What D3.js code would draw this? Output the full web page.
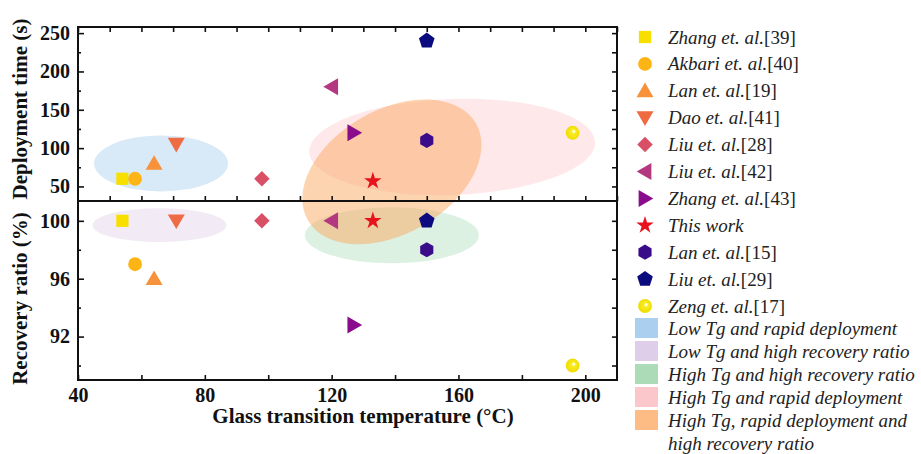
<!DOCTYPE html>
<html>
<head>
<meta charset="utf-8">
<script src="https://cdn.jsdelivr.net/npm/d3@7"></script>
<style>
  html, body { margin: 0; padding: 0; background: #fff; }
  svg { display: block; }
  text { font-family: "Liberation Serif", "Times New Roman", serif; }
</style>
</head>
<body>
<svg id="chart" width="921" height="454"></svg>
<script>
// ---- data ----
const studyNames = ["Zhang et. al.", "Akbari et. al.", "Lan et. al.", "Dao et. al.", "Liu et. al.",
  "Liu et. al.", "Zhang et. al.", "This work", "Lan et. al.", "Liu et. al.", "Zeng et. al."];
const studyRefs = ["[39]", "[40]", "[19]", "[41]", "[28]", "[42]", "[43]", "", "[15]", "[29]", "[17]"];
const glassTransition = [54, 58, 64, 71, 98, 120, 127, 133, 150, 150, 196];      // °C
const deploymentTime = [60, 60, 80, 105, 60, 180, 120, 57, 110, 240, 120];       // s
const recoveryRatio = [100, 97, 96, 100, 100, 100, 92.8, 100, 98, 100, 90];      // %

const regionNames = ["Low Tg and rapid deployment", "Low Tg and high recovery ratio",
  "High Tg and high recovery ratio", "High Tg and rapid deployment",
  "High Tg, rapid deployment and|high recovery ratio"];

const xTicks = [40, 80, 120, 160, 200];
const timeTicks = [50, 100, 150, 200, 250];
const ratioTicks = [92, 96, 100];

// ---- styles ----
const markerColors = ["#f7e000", "#fdb515", "#f7923a", "#ef6b43", "#d94f66", "#b4387f",
  "#8b0b8d", "#e8121c", "#3b0c8a", "#0b0a7e", "#f4e500"];
const markerShapes = ["square", "circle", "triUp", "triDown", "diamond", "triLeft",
  "triRight", "star", "hexagon", "pentagon", "ball"];
const regionColors = ["#8fc0ea", "#d4bee1", "#8fcf9f", "#fbb4b8", "#fba55a"];

const svg = d3.select("#chart");
const left = 78, right = 617, top1 = 27, mid = 201, bottom2 = 380;

const x = d3.scaleLinear().domain([40, 210]).range([left, right]);
const yTime = d3.scaleLinear().domain([31, 258]).range([mid, top1]);
const yRatio = d3.scaleLinear().domain([89, 101.3]).range([bottom2, mid + 1]);

// shaded sphere for the Zeng marker
const defs = svg.append("defs");
const grad = defs.append("radialGradient").attr("id", "ballGrad")
  .attr("cx", "50%").attr("cy", "50%").attr("r", "50%").attr("fx", "60%").attr("fy", "38%");
grad.append("stop").attr("offset", "0%").attr("stop-color", "#ffffff");
grad.append("stop").attr("offset", "12%").attr("stop-color", "#fffde0");
grad.append("stop").attr("offset", "32%").attr("stop-color", "#f9ec20");
grad.append("stop").attr("offset", "100%").attr("stop-color", "#efdc00");

// ---- marker paths ----
function polygon(n, r, rot) {
  const pts = d3.range(n).map(i => {
    const a = rot + i * 2 * Math.PI / n;
    return [r * Math.cos(a), r * Math.sin(a)];
  });
  return "M" + pts.map(p => p[0].toFixed(2) + "," + p[1].toFixed(2)).join("L") + "Z";
}
function markerPath(shape) {
  switch (shape) {
    case "square": return d3.symbol(d3.symbolSquare, 150)();
    case "circle": return d3.symbol(d3.symbolCircle, 150)();
    case "triUp":
    case "triDown":
    case "triLeft":
    case "triRight": return d3.symbol(d3.symbolTriangle, 125)();
    case "diamond": return d3.symbol(d3.symbolSquare, 120)();
    case "star": return d3.symbol(d3.symbolStar, 95)();
    case "hexagon": return polygon(6, 7.6, -Math.PI / 2);
    case "pentagon": return polygon(5, 8.2, -Math.PI / 2);
    case "ball": return d3.symbol(d3.symbolCircle, 150)();
  }
}
function markerRotation(shape) {
  return { triDown: 180, triLeft: -90, triRight: 90, diamond: 45 }[shape] || 0;
}
function drawMarker(g, i, px, py) {
  const shape = markerShapes[i];
  const yShift = shape === "triUp" ? 1.5 : shape === "triDown" ? -1.5 : 0;
  const xShift = shape === "triLeft" ? 1.5 : shape === "triRight" ? -1.5 : 0;
  g.append("path")
    .attr("d", markerPath(shape))
    .attr("transform", `translate(${px + xShift},${py + yShift}) rotate(${markerRotation(shape)})`)
    .attr("fill", shape === "ball" ? "url(#ballGrad)" : markerColors[i]);
}

// ---- shaded regions (centres in data units, radii in px) ----
const plot = svg.append("g");
function region(idx, cx, cy, rx, ry, rot, yScale, op) {
  plot.append("ellipse")
    .attr("cx", 0).attr("cy", 0).attr("rx", rx).attr("ry", ry)
    .attr("transform", `translate(${x(cx)},${yScale(cy)}) rotate(${rot})`)
    .attr("fill", regionColors[idx]).attr("fill-opacity", op);
}
region(0, 66.2, 80, 67, 28, 0, yTime, 0.35);
region(1, 65.7, 99.7, 67, 17, 0, yRatio, 0.3);
region(2, 139, 99, 87, 28, 0, yRatio, 0.3);
region(3, 158, 101.5, 143, 48, -2, yTime, 0.3);
region(4, 139, 69, 97, 62, -30, yTime, 0.48);

// ---- markers ----
const marks = svg.append("g");
glassTransition.forEach((t, i) => {
  drawMarker(marks, i, x(t), yTime(deploymentTime[i]));
  drawMarker(marks, i, x(t), yRatio(recoveryRatio[i]));
});

// ---- axes ----
const tickFont = g => g.selectAll("text")
  .attr("font-family", "Liberation Serif, Times New Roman, serif")
  .attr("font-size", 20).attr("font-weight", "bold").attr("fill", "#111");
const clean = g => { g.select(".domain").remove(); g.selectAll("line").attr("stroke", "#111").attr("stroke-width", 1.6); };

// top panel
svg.append("g").attr("transform", `translate(0,${top1})`)
  .call(d3.axisTop(x).tickValues(d3.range(40, 211, 10)).tickSize(-5).tickFormat(""))
  .call(clean);
svg.append("g").attr("transform", `translate(0,${mid})`)
  .call(d3.axisBottom(x).tickValues(d3.range(50, 211, 10)).tickSize(-5).tickFormat(""))
  .call(clean);
svg.append("g").attr("transform", `translate(${left},0)`)
  .call(d3.axisLeft(yTime).tickValues(timeTicks).tickSize(-6).tickPadding(8))
  .call(clean).call(tickFont);
svg.append("g").attr("transform", `translate(${left},0)`)
  .call(d3.axisLeft(yTime).tickValues([75, 125, 175, 225]).tickSize(-3).tickFormat(""))
  .call(clean);
svg.append("g").attr("transform", `translate(${right},0)`)
  .call(d3.axisRight(yTime).tickValues(d3.range(50, 251, 25)).tickSize(-5).tickFormat(""))
  .call(clean);

// bottom panel
svg.append("g").attr("transform", `translate(0,${bottom2})`)
  .call(d3.axisBottom(x).tickValues(xTicks).tickSize(-5).tickPadding(8))
  .call(clean).call(tickFont);
svg.append("g").attr("transform", `translate(0,${bottom2})`)
  .call(d3.axisBottom(x).tickValues([60, 100, 140, 180]).tickSize(-5).tickFormat(""))
  .call(clean);
svg.append("g").attr("transform", `translate(${left},0)`)
  .call(d3.axisLeft(yRatio).tickValues(ratioTicks).tickSize(-6).tickPadding(8))
  .call(clean).call(tickFont);
svg.append("g").attr("transform", `translate(${left},0)`)
  .call(d3.axisLeft(yRatio).tickValues([90, 94, 98]).tickSize(-3).tickFormat(""))
  .call(clean);
svg.append("g").attr("transform", `translate(${right},0)`)
  .call(d3.axisRight(yRatio).tickValues(d3.range(90, 101, 2)).tickSize(-5).tickFormat(""))
  .call(clean);

// frames
svg.append("rect").attr("x", left).attr("y", top1).attr("width", right - left).attr("height", mid - top1)
  .attr("fill", "none").attr("stroke", "#111").attr("stroke-width", 2);
svg.append("rect").attr("x", left).attr("y", mid).attr("width", right - left).attr("height", bottom2 - mid)
  .attr("fill", "none").attr("stroke", "#111").attr("stroke-width", 2);

// axis titles
const titleStyle = (t, size) => t.attr("font-size", size).attr("font-weight", "bold").attr("fill", "#111")
  .attr("text-anchor", "middle");
svg.append("text").attr("x", 363).attr("y", 423)
  .text("Glass transition temperature (\u00B0C)").call(titleStyle, 21);
svg.append("text").attr("transform", `translate(27,${(top1 + mid) / 2 - 5}) rotate(-90)`)
  .text("Deployment time (s)").call(titleStyle, 21);
svg.append("text").attr("transform", `translate(27,${(mid + bottom2) / 2 + 8}) rotate(-90)`)
  .text("Recovery ratio (%)").call(titleStyle, 21);

// ---- legend ----
const legend = svg.append("g");
const lx = 645, tx = 668;
studyNames.forEach((name, i) => {
  const ly = 37 + i * 26.9;
  drawMarker(legend, i, lx, ly);
  const t = legend.append("text").attr("x", tx).attr("y", ly + 6.5)
    .attr("font-size", 19).attr("fill", "#222");
  t.append("tspan").attr("font-style", "italic").text(name);
  if (studyRefs[i]) t.append("tspan").text(studyRefs[i]);
});
regionNames.forEach((name, j) => {
  const ly = 328 + j * 23;
  legend.append("rect").attr("x", 635).attr("y", ly - 10).attr("width", 23).attr("height", 20)
    .attr("fill", regionColors[j]).attr("fill-opacity", 0.75);
  name.split("|").forEach((line, k) => {
    legend.append("text").attr("x", tx).attr("y", ly + 6.5 + k * 23)
      .attr("font-size", 19).attr("font-style", "italic").attr("fill", "#222").text(line);
  });
});
</script>
</body>
</html>
